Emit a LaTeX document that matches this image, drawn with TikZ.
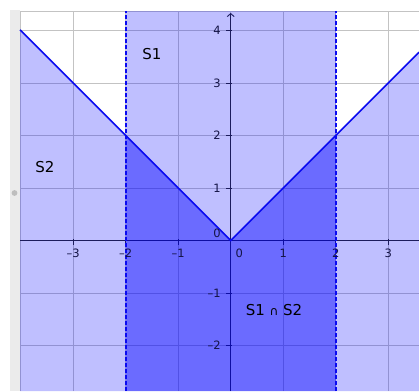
\documentclass[tikz,border=0pt]{standalone}
\usepackage{fontspec}
\setmainfont{DejaVu Sans}
\usetikzlibrary{arrows.meta}
\definecolor{fillblue}{RGB}{0,0,255}
\definecolor{lineblue}{RGB}{10,10,240}
\definecolor{gridgray}{RGB}{195,195,195}
\definecolor{ticktext}{RGB}{20,20,70}
\definecolor{stripgray}{RGB}{235,235,235}
\definecolor{knobgray}{RGB}{190,190,190}
\begin{document}
\begin{tikzpicture}[x=52.5pt,y=52.5pt,
  gridline/.style={draw=gridgray,line width=1pt},
  region/.style={fill=fillblue,fill opacity=0.25},
  vline/.style={draw=lineblue,line width=1.5pt},
  dashline/.style={draw=lineblue,line width=1.8pt,dash pattern=on 4pt off 2pt},
  axisline/.style={draw=black!85,line width=0.9pt},
  tickmark/.style={draw=black!85,line width=0.7pt},
  ticklab/.style={text=ticktext,font=\fontsize{11.5}{13}\selectfont,inner sep=0pt},
  setlab/.style={text=black,font=\fontsize{15}{18}\selectfont,inner sep=0pt}]
\def\xmin{-4.013}\def\xmax{3.5867}\def\ymin{-2.867}\def\ymax{4.3715}
\useasboundingbox (-4.3943,-2.867) rectangle (3.5867,4.581);
\fill[white] (-4.3943,-2.867) rectangle (3.5867,4.581);
% side strip
\fill[stripgray] (-4.204,-2.867) rectangle (\xmin,4.391);
\fill[knobgray] (-4.118,0.905) circle (0.055);
% grid
\foreach \x in {-4,...,3} \draw[gridline] (\x,\ymin) -- (\x,\ymax);
\foreach \y in {-2,...,4} \draw[gridline] (\xmin,\y) -- (\xmax,\y);
\draw[gridline,line width=0.6pt] (\xmin,\ymax) -- (\xmax,\ymax);
% axes
\coordinate (xl) at (\xmin,0);
\coordinate (xr) at (\xmax,0);
\coordinate (yb) at (0,\ymin);
\coordinate (yt) at (0,4.333);
\draw[axisline] (xl) -- (xr);
\draw[axisline,-{Straight Barb[length=3pt,width=7pt]}] (yb) -- (yt);
\foreach \x in {-3,...,3} \draw[tickmark] (\x,0.02) -- (\x,-0.08);
\foreach \y in {-2,...,4} \draw[tickmark] (0.02,\y) -- (-0.08,\y);
% regions
\coordinate (vl) at (\xmin,4.013);
\coordinate (o) at (0,0);
\coordinate (vr) at (\xmax,3.5867);
\fill[region] (\xmin,\ymin) -- (vl) -- (o) -- (vr) -- (\xmax,\ymin) -- cycle;
\fill[region] (-2,\ymin) rectangle (2,\ymax);
\fill[region] (-2,\ymin) -- (-2,2) -- (o) -- (2,2) -- (2,\ymin) -- cycle;
% boundaries
\draw[vline] (vl) -- (o) -- (vr);
\coordinate (dlb) at (-2,\ymin);
\coordinate (dlt) at (-2,\ymax);
\coordinate (drb) at (2,\ymin);
\coordinate (drt) at (2,\ymax);
\draw[dashline] (dlb) -- (dlt);
\draw[dashline] (drb) -- (drt);
% tick labels
\foreach \x/\t in {-3/–3,-2/–2,-1/–1,1/1,2/2,3/3}
  \node[ticklab] (tx\x) at (\x,-0.25) {\t};
\node[ticklab] (tx0) at (0.164,-0.25) {0};
\foreach \y/\t in {4/4,3/3,2/2,1/1,-1/–1,-2/–2}
  \node[ticklab,anchor=east] (ty\y) at (-0.185,\y) {\t};
\node[ticklab,anchor=east] (ty0) at (-0.185,0.137) {0};
% set labels
\node[setlab] (s1) at (-1.499,3.552) {S1};
\node[setlab] (s2) at (-3.537,1.40) {S2};
\node[setlab] (s12) at (0.825,-1.324) {S1 {\fontsize{12}{14}\selectfont ∩} S2};
\end{tikzpicture}
\end{document}
